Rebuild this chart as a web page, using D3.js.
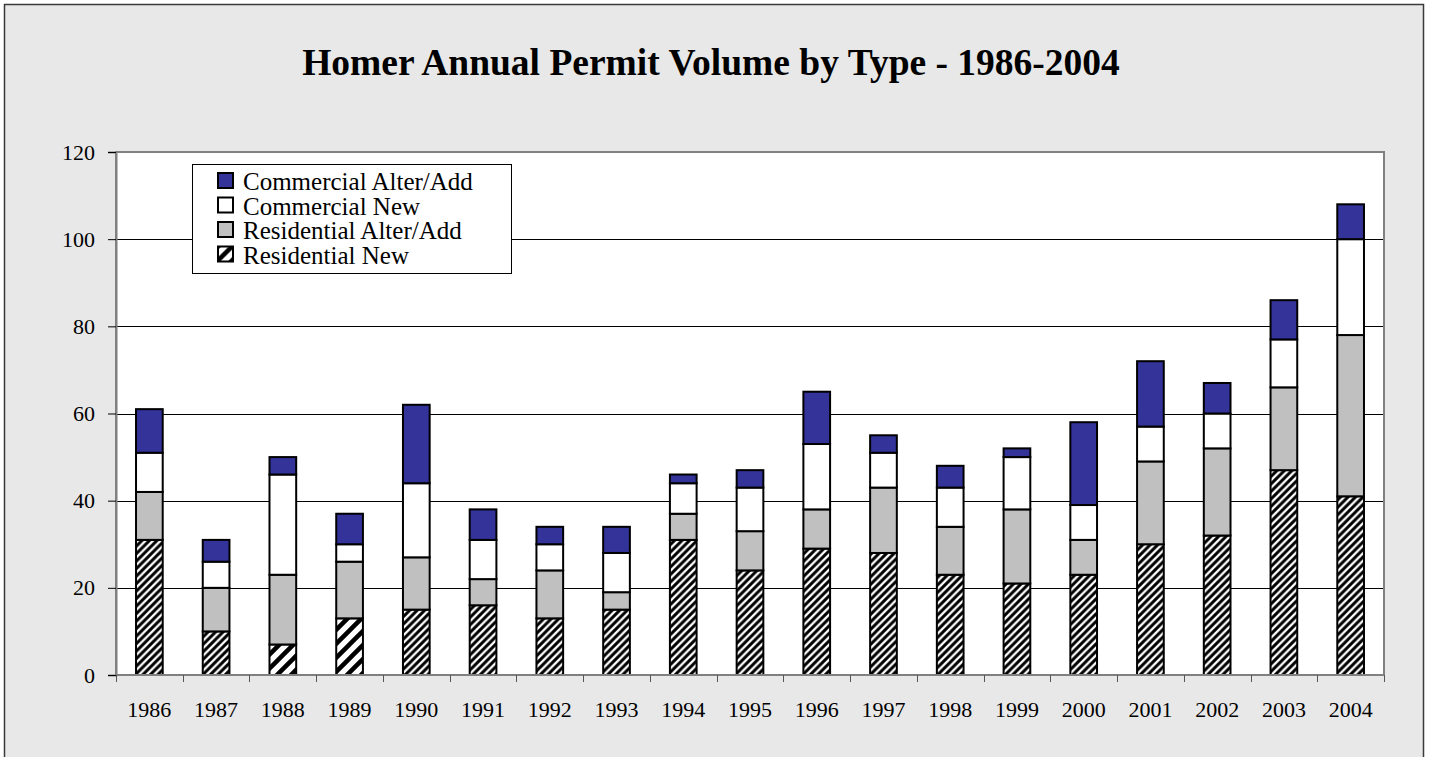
<!DOCTYPE html>
<html lang="en">
<head>
<meta charset="UTF-8">
<title>Homer Annual Permit Volume by Type</title>
<style>
  body { margin: 0; background: #fff; }
  svg text { font-family: "Liberation Serif", "Times New Roman", serif; fill: #000; }
</style>
</head>
<body>
<script src="https://d3js.org/d3.v7.min.js"></script>
<div id="chart"></div>
<script>
// data
var years = ["1986","1987","1988","1989","1990","1991","1992","1993","1994","1995",
             "1996","1997","1998","1999","2000","2001","2002","2003","2004"];
var residentialNew   = [31,10, 7,13,15,16,13,15,31,24,29,28,23,21,23,30,32,47,41];
var residentialAlter = [11,10,16,13,12, 6,11, 4, 6, 9, 9,15,11,17, 8,19,20,19,37];
var commercialNew    = [ 9, 6,23, 4,17, 9, 6, 9, 7,10,15, 8, 9,12, 8, 8, 8,11,22];
var commercialAlter  = [10, 5, 4, 7,18, 7, 4, 6, 2, 4,12, 4, 5, 2,19,15, 7, 9, 8];
var seriesNames = ["Residential New","Residential Alter/Add","Commercial New","Commercial Alter/Add"];
var yTicks = [0,20,40,60,80,100,120];
var title = "Homer Annual Permit Volume by Type - 1986-2004";

var W = 1430, H = 757;
var plot = {left: 116, right: 1384, top: 152, bottom: 675};

var svg = d3.select("#chart").append("svg")
    .attr("width", W).attr("height", H);

var defs = svg.append("defs");
// diagonal hatching used for "Residential New"
function hatch(id, size, sw) {
    var p = defs.append("pattern")
        .attr("id", id)
        .attr("patternUnits", "userSpaceOnUse")
        .attr("width", size).attr("height", size);
    p.append("rect").attr("width", size).attr("height", size).attr("fill", "#fff");
    p.append("path")
        .attr("d", "M" + (-size/4) + "," + (size/4) + " l" + (size/2) + "," + (-size/2) +
                   " M0," + size + " l" + size + "," + (-size) +
                   " M" + (size*3/4) + "," + (size*5/4) + " l" + (size/2) + "," + (-size/2))
        .attr("stroke", "#000").attr("stroke-width", sw);
}
hatch("hatch", 7.5, 3);
hatch("hatchWide", 14, 4.5);

var fills = ["url(#hatch)", "#c0c0c0", "#ffffff", "#333399"];

// outer chart frame
svg.append("rect")
    .attr("x", 4.5).attr("y", 4.5)
    .attr("width", 1419).attr("height", 820)
    .attr("fill", "#e8e8e8")
    .attr("stroke", "#3a3a3a").attr("stroke-width", 1.5);

svg.append("text")
    .attr("x", 711).attr("y", 75)
    .attr("text-anchor", "middle")
    .style("font-size", "37.5px").style("font-weight", "bold")
    .text(title);

// plot area
svg.append("rect")
    .attr("x", plot.left).attr("y", plot.top)
    .attr("width", plot.right - plot.left).attr("height", plot.bottom - plot.top)
    .attr("fill", "#fff");

var x = d3.scaleBand()
    .domain(years)
    .range([plot.left, plot.right])
    .paddingInner(0.6)
    .paddingOuter(0.3);

var y = d3.scaleLinear()
    .domain([0, 120])
    .range([plot.bottom, plot.top]);

// gridlines
svg.selectAll(".grid")
    .data(yTicks.filter(function(d) { return d > 0 && d < 120; }))
    .enter().append("line")
    .attr("x1", plot.left).attr("x2", plot.right)
    .attr("y1", function(d) { return Math.round(y(d)) + 0.5; })
    .attr("y2", function(d) { return Math.round(y(d)) + 0.5; })
    .attr("stroke", "#000").attr("stroke-width", 1);

// plot border
svg.append("rect")
    .attr("x", plot.left).attr("y", plot.top)
    .attr("width", plot.right - plot.left).attr("height", plot.bottom - plot.top)
    .attr("fill", "none")
    .attr("stroke", "#808080").attr("stroke-width", 2);

// stacked bars
var table = years.map(function(yr, i) {
    return {year: yr, vals: [residentialNew[i], residentialAlter[i], commercialNew[i], commercialAlter[i]]};
});
var wideHatch = ["1988", "1989"];

table.forEach(function(d) {
    var base = 0;
    d.vals.forEach(function(v, k) {
        var fill = fills[k];
        if (k === 0 && wideHatch.indexOf(d.year) >= 0) fill = "url(#hatchWide)";
        svg.append("rect")
            .attr("x", x(d.year))
            .attr("y", y(base + v))
            .attr("width", x.bandwidth())
            .attr("height", y(base) - y(base + v))
            .attr("fill", fill)
            .attr("stroke", "#000")
            .attr("stroke-width", 2);
        base += v;
    });
});

// y axis
var yAxis = svg.append("g")
    .attr("transform", "translate(" + plot.left + ",0)")
    .call(d3.axisLeft(y).tickValues(yTicks).tickSize(8).tickPadding(13));
yAxis.select(".domain").attr("stroke", "#808080").attr("stroke-width", 2);
yAxis.selectAll(".tick line").attr("stroke", "#000");
yAxis.selectAll("text").style("font-size", "22px").style("font-family", "Liberation Serif, serif");

// x axis: ticks between categories
var xAxisG = svg.append("g");
xAxisG.append("line")
    .attr("x1", plot.left).attr("x2", plot.right)
    .attr("y1", plot.bottom).attr("y2", plot.bottom)
    .attr("stroke", "#808080").attr("stroke-width", 2);
xAxisG.selectAll(".xt")
    .data(d3.range(years.length + 1))
    .enter().append("line")
    .attr("x1", function(i) { return Math.round(plot.left + i * x.step()) + 0.5; })
    .attr("x2", function(i) { return Math.round(plot.left + i * x.step()) + 0.5; })
    .attr("y1", plot.bottom).attr("y2", plot.bottom + 7)
    .attr("stroke", "#555");
xAxisG.selectAll(".xl")
    .data(years)
    .enter().append("text")
    .attr("x", function(d) { return x(d) + x.bandwidth() / 2; })
    .attr("y", 717)
    .attr("text-anchor", "middle")
    .style("font-size", "22px")
    .text(function(d) { return d; });

// legend
var legend = svg.append("g").attr("transform", "translate(192,164)");
legend.append("rect")
    .attr("x", 0.5).attr("y", 0.5)
    .attr("width", 319).attr("height", 109)
    .attr("fill", "#fff").attr("stroke", "#000");
var legendOrder = [3, 2, 1, 0];
legendOrder.forEach(function(k, i) {
    var row = legend.append("g").attr("transform", "translate(26," + (9 + i * 24.5) + ")");
    row.append("rect")
        .attr("x", 0).attr("y", 0)
        .attr("width", 15).attr("height", 15)
        .attr("fill", k === 0 ? "url(#hatchWide)" : fills[k])
        .attr("stroke", "#000").attr("stroke-width", 2);
    row.append("text")
        .attr("x", 25).attr("y", 17)
        .style("font-size", "25px")
        .text(seriesNames[k]);
});
</script>
</body>
</html>
